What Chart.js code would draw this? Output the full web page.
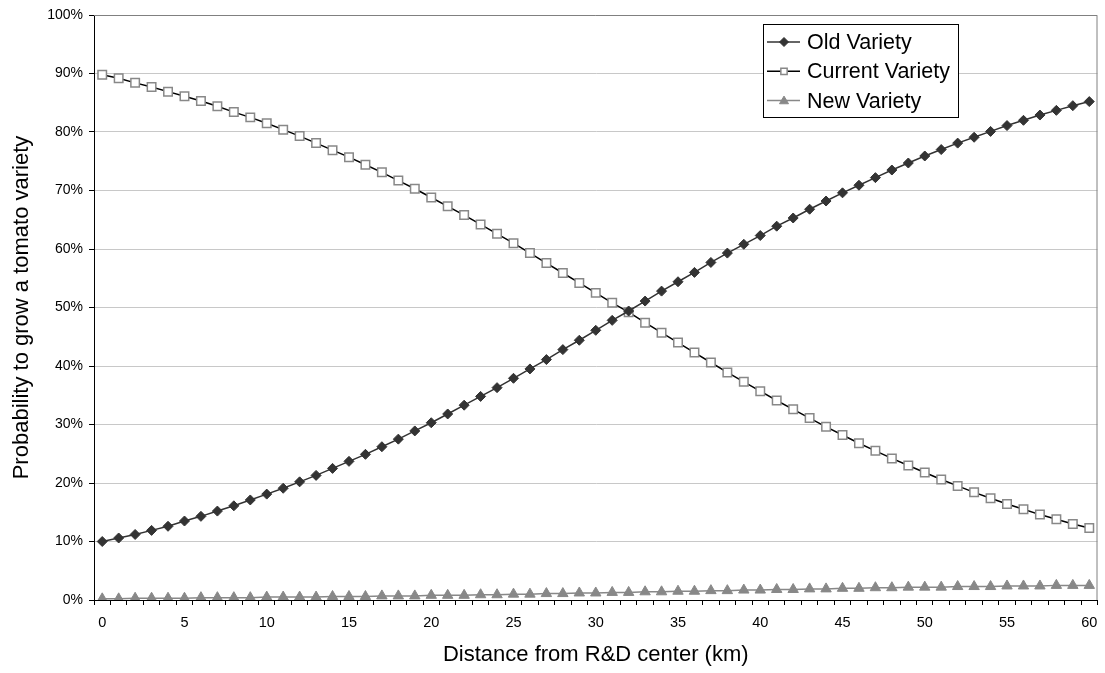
<!DOCTYPE html>
<html>
<head>
<meta charset="utf-8">
<script src="https://cdn.jsdelivr.net/npm/chart.js@4"></script>
<style>
  html, body { margin: 0; padding: 0; background: #fff; }
  #wrap { width: 1105px; height: 673px; }
</style>
</head>
<body>
<div id="wrap"><canvas id="chart" width="1105" height="673"></canvas></div>
<script>
// distance in km
const distance = [];
for (let i = 0; i <= 60; i++) distance.push(i);

const oldVariety = [10.0, 10.6, 11.2, 11.9, 12.6, 13.5, 14.3, 15.2, 16.1, 17.1,
  18.1, 19.1, 20.2, 21.3, 22.5, 23.7, 24.9, 26.2, 27.5, 28.9,
  30.3, 31.8, 33.3, 34.8, 36.3, 37.9, 39.5, 41.1, 42.8, 44.4,
  46.1, 47.8, 49.4, 51.1, 52.8, 54.4, 56.0, 57.7, 59.3, 60.8,
  62.3, 63.9, 65.3, 66.8, 68.2, 69.6, 70.9, 72.2, 73.5, 74.7,
  75.9, 77.0, 78.1, 79.1, 80.1, 81.1, 82.0, 82.9, 83.7, 84.5,
  85.2];

const currentVariety = [89.8, 89.2, 88.4, 87.7, 86.9, 86.1, 85.3, 84.4, 83.4, 82.5,
  81.5, 80.4, 79.3, 78.1, 76.9, 75.7, 74.4, 73.1, 71.7, 70.3,
  68.8, 67.3, 65.8, 64.2, 62.6, 61.0, 59.3, 57.6, 55.9, 54.2,
  52.5, 50.8, 49.2, 47.4, 45.7, 44.0, 42.3, 40.6, 38.9, 37.3,
  35.7, 34.1, 32.6, 31.1, 29.6, 28.2, 26.8, 25.5, 24.2, 23.0,
  21.8, 20.6, 19.5, 18.4, 17.4, 16.4, 15.5, 14.6, 13.8, 13.0,
  12.3];

const newVariety = [0.2, 0.2, 0.3, 0.3, 0.3, 0.3, 0.4, 0.4, 0.4, 0.4,
  0.5, 0.5, 0.5, 0.5, 0.6, 0.6, 0.6, 0.7, 0.7, 0.7,
  0.8, 0.8, 0.8, 0.9, 0.9, 1.0, 1.0, 1.1, 1.1, 1.2,
  1.2, 1.3, 1.3, 1.4, 1.4, 1.5, 1.5, 1.6, 1.6, 1.7,
  1.7, 1.8, 1.8, 1.9, 1.9, 2.0, 2.0, 2.1, 2.1, 2.2,
  2.2, 2.2, 2.3, 2.3, 2.3, 2.4, 2.4, 2.4, 2.5, 2.5,
  2.5];

const FONT = "'Liberation Sans', Arial, sans-serif";

// frame around plot area (top / right in grey)
const frame = {
  id: 'frame',
  beforeDatasetsDraw(chart) {
    const { ctx, chartArea: a } = chart;
    ctx.save();
    ctx.strokeStyle = '#808080';
    ctx.lineWidth = 1;
    ctx.beginPath();
    ctx.moveTo(a.left, a.top + 0.5);
    ctx.lineTo(a.right - 0.5, a.top + 0.5);
    ctx.lineTo(a.right - 0.5, a.bottom);
    ctx.stroke();
    ctx.restore();
  }
};

function drawMarker(ctx, style, r, cx, cy) {
  ctx.beginPath();
  if (style === 'rectRot') {
    ctx.moveTo(cx, cy - r); ctx.lineTo(cx + r, cy); ctx.lineTo(cx, cy + r); ctx.lineTo(cx - r, cy);
  } else if (style === 'rect') {
    ctx.rect(cx - r * 0.7, cy - r * 0.7, r * 1.4, r * 1.4);
  } else {
    ctx.moveTo(cx, cy - r); ctx.lineTo(cx + r, cy + r * 0.7); ctx.lineTo(cx - r, cy + r * 0.7);
  }
  ctx.closePath();
  ctx.fill();
  ctx.stroke();
}

// legend box inside the plot, like the excel one
const boxLegend = {
  id: 'boxLegend',
  afterDraw(chart) {
    const { ctx } = chart;
    const x = 763, y = 24, w = 195, h = 93;
    ctx.save();
    ctx.fillStyle = '#fff';
    ctx.fillRect(x, y, w, h);
    ctx.strokeStyle = '#000';
    ctx.lineWidth = 1;
    ctx.strokeRect(x + 0.5, y + 0.5, w, h);
    ctx.font = '21.5px ' + FONT;
    ctx.textBaseline = 'middle';
    chart.data.datasets.forEach((ds, i) => {
      const cy = y + 18 + i * 29.3;
      ctx.strokeStyle = ds.borderColor;
      ctx.lineWidth = ds.borderWidth;
      ctx.beginPath();
      ctx.moveTo(x + 4, cy);
      ctx.lineTo(x + 37, cy);
      ctx.stroke();
      ctx.fillStyle = ds.pointBackgroundColor;
      ctx.strokeStyle = ds.pointBorderColor;
      ctx.lineWidth = ds.pointBorderWidth;
      drawMarker(ctx, ds.pointStyle, 4.5, x + 21, cy);
      ctx.fillStyle = '#000';
      ctx.fillText(ds.label, x + 44, cy + 1);
    });
    ctx.restore();
  }
};

new Chart(document.getElementById('chart'), {
  type: 'line',
  data: {
    labels: distance,
    datasets: [{
      label: 'Old Variety',
      data: oldVariety,
      borderColor: '#333333',
      borderWidth: 1.5,
      pointStyle: 'rectRot',
      pointRadius: 5,
      pointBackgroundColor: '#333333',
      pointBorderColor: '#333333',
      pointBorderWidth: 1
    }, {
      label: 'Current Variety',
      data: currentVariety,
      borderColor: '#000000',
      borderWidth: 1.5,
      pointStyle: 'rect',
      pointRadius: 6,
      pointBackgroundColor: '#ffffff',
      pointBorderColor: '#888888',
      pointBorderWidth: 1.5
    }, {
      label: 'New Variety',
      data: newVariety,
      borderColor: '#888888',
      borderWidth: 1.5,
      pointStyle: 'triangle',
      pointRadius: 6,
      pointBackgroundColor: '#888888',
      pointBorderColor: '#888888',
      pointBorderWidth: 1
    }]
  },
  options: {
    responsive: false,
    animation: false,
    layout: { padding: { top: 15, right: 5, left: 0, bottom: 0 } },
    scales: {
      x: {
        type: 'category',
        offset: true,
        grid: { offset: true, drawOnChartArea: false, drawTicks: true, tickLength: 5, color: '#000' },
        border: { color: '#000', width: 1 },
        ticks: {
          autoSkip: false,
          maxRotation: 0,
          color: '#000',
          font: { family: FONT, size: 14.5 },
          padding: 9,
          callback: function (v, i) { return i % 5 === 0 ? String(distance[i]) : ''; }
        },
        title: {
          display: true,
          text: 'Distance from R&D center (km)',
          color: '#000',
          font: { family: FONT, size: 22 },
          padding: { top: 4, bottom: 5 }
        },
        afterFit(s) { s.height = 73; s.paddingLeft = 0; s.paddingRight = 0; }
      },
      y: {
        min: 0,
        max: 100,
        grid: { color: '#c8c8c8', tickLength: 5, tickColor: '#000' },
        border: { color: '#000', width: 1 },
        ticks: {
          stepSize: 10,
          color: '#000',
          font: { family: FONT, size: 14 },
          padding: 6,
          callback: v => v + '%'
        },
        title: {
          display: true,
          text: 'Probability to grow a tomato variety',
          color: '#000',
          font: { family: FONT, size: 22 },
          padding: { top: 9, bottom: 4 }
        },
        afterFit(s) { s.width = 94; }
      }
    },
    plugins: {
      legend: { display: false },
      tooltip: { enabled: false }
    }
  },
  plugins: [frame, boxLegend]
});
</script>
</body>
</html>
